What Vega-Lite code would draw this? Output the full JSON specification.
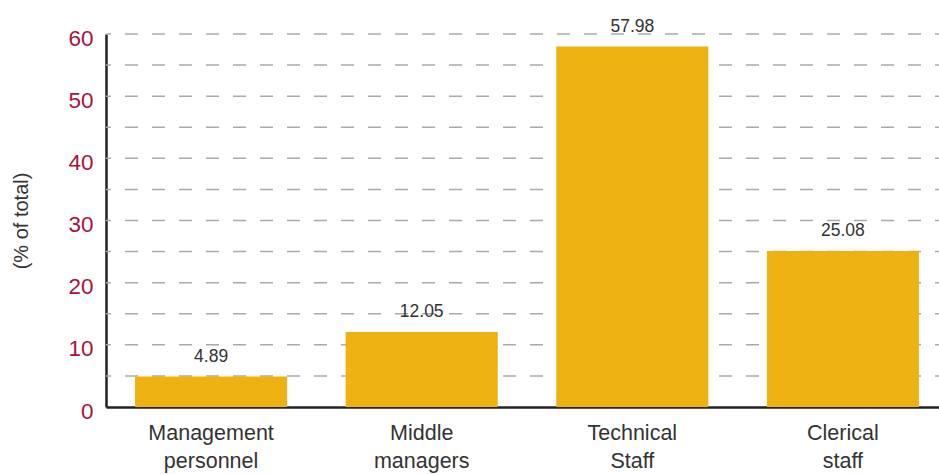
{
  "$schema": "https://vega.github.io/schema/vega-lite/v6.json",
  "width": 842,
  "height": 373,
  "autosize": "none",
  "padding": {"left": 106, "top": 34, "right": 0, "bottom": 67},
  "background": "white",
  "data": {"values": [
    {"category": "Management personnel", "value": 4.89},
    {"category": "Middle managers", "value": 12.05},
    {"category": "Technical Staff", "value": 57.98},
    {"category": "Clerical staff", "value": 25.08}
  ]},
  "config": {
    "view": {"stroke": null},
    "font": "Liberation Sans"
  },
  "encoding": {
    "x": {
      "field": "category", "type": "nominal", "sort": null,
      "scale": {"paddingInner": 0.278, "paddingOuter": 0.138},
      "axis": {
        "title": null, "labelAngle": 0, "ticks": false, "domainColor": "#222222", "domainWidth": 2.5,
        "labelExpr": "split(datum.label, ' ')", "labelFontSize": 21.5, "labelColor": "#333333",
        "labelPadding": 15, "labelLineHeight": 28, "labelFont": "Liberation Sans", "grid": false
      }
    },
    "y": {
      "field": "value", "type": "quantitative",
      "scale": {"domain": [0, 60], "nice": false},
      "axis": {
        "title": "(% of total)", "titleFontSize": 20, "titleFontWeight": "normal", "titleColor": "#333333",
        "titleFont": "Liberation Sans", "titlePadding": 36,
        "values": [0, 10, 20, 30, 40, 50, 60],
        "labelColor": "#A8133F", "labelFontSize": 22.5, "labelFont": "Liberation Sans",
        "labelPadding": 13, "labelBaseline": "middle", "labelOffset": 4,
        "ticks": false, "domainColor": "#222222", "domainWidth": 2.5, "grid": false
      }
    }
  },
  "layer": [
    {
      "mark": {"type": "rule", "stroke": "#AAAAAA", "strokeWidth": 1.5, "strokeDash": [13, 14]},
      "data": {"values": [
        {"g": 5}, {"g": 10}, {"g": 15}, {"g": 20}, {"g": 25}, {"g": 30},
        {"g": 35}, {"g": 40}, {"g": 45}, {"g": 50}, {"g": 55}, {"g": 60}
      ]},
      "encoding": {"y": {"field": "g", "type": "quantitative"}, "x": null}
    },
    {
      "mark": {"type": "bar", "color": "#EDB111"}
    },
    {
      "mark": {"type": "text", "baseline": "bottom", "dy": -11, "fontSize": 17.5, "color": "#333333", "font": "Liberation Sans"},
      "encoding": {"text": {"field": "value", "type": "quantitative", "format": ".2f"}}
    }
  ]
}
